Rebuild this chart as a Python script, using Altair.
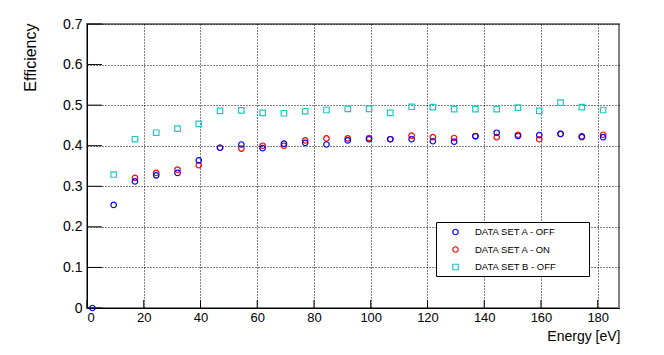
import altair as alt
import pandas as pd

# ---------------- data ----------------
energy = [1.9, 9.4, 16.9, 24.4, 31.9, 39.4, 46.9, 54.4, 61.9, 69.4, 76.9, 84.4,
          91.9, 99.4, 106.9, 114.4, 121.9, 129.4, 136.9, 144.4, 151.9, 159.4,
          166.9, 174.4, 181.9]

eff_a_off = [0.0, 0.254, 0.312, 0.327, 0.333, 0.364, 0.395, 0.403, 0.394, 0.405,
             0.407, 0.403, 0.413, 0.416, 0.416, 0.416, 0.411, 0.410, 0.424, 0.432,
             0.424, 0.426, 0.429, 0.423, 0.421]

energy_a_on = energy[2:]
eff_a_on = [0.321, 0.333, 0.341, 0.352, 0.395, 0.393, 0.400, 0.400, 0.413, 0.418,
            0.418, 0.419, 0.416, 0.425, 0.421, 0.419, 0.423, 0.421, 0.427, 0.416,
            0.429, 0.421, 0.427]

energy_b_off = energy[1:]
eff_b_off = [0.329, 0.416, 0.432, 0.442, 0.454, 0.486, 0.487, 0.481, 0.480, 0.485,
             0.488, 0.491, 0.491, 0.481, 0.496, 0.495, 0.490, 0.490, 0.490, 0.494,
             0.486, 0.506, 0.495, 0.488]

series_names = ["DATA SET A - OFF", "DATA SET A - ON", "DATA SET B - OFF"]
series_colors = ["#0000ff", "#ff0000", "#1ec8c8"]
series_shapes = ["circle", "circle", "square"]

x_ticks = [0, 20, 40, 60, 80, 100, 120, 140, 160, 180]
y_ticks = [0.0, 0.1, 0.2, 0.3, 0.4, 0.5, 0.6, 0.7]
x_domain = [0, 187.5]
y_domain = [0, 0.7]

W, H = 532, 284

xscale = alt.Scale(domain=x_domain, nice=False, zero=False)
yscale = alt.Scale(domain=y_domain, nice=False, zero=False)

x_axis = alt.Axis(values=x_ticks, format="d", grid=True, gridColor="black",
                  gridDash=[1, 2], gridWidth=1, ticks=True, tickSize=0,
                  labelPadding=3, labelFont="Liberation Sans",
                  labelFontSize=13, labelColor="black", domainColor="black",
                  domainWidth=1, title="Energy [eV]",
                  titleFont="Liberation Sans", titleFontSize=14,
                  titleFontWeight="normal", titleColor="black",
                  titleAlign="right", titleAnchor="end", titleBaseline="alphabetic",
                  titleX=W + 1, titleY=32)
y_axis = alt.Axis(values=y_ticks, format=".1~f", grid=True, gridColor="black",
                  gridDash=[1, 2], gridWidth=1, ticks=True, tickSize=0,
                  labelPadding=5, labelFont="Liberation Sans", labelFontSize=14,
                  labelColor="black", domainColor="black", domainWidth=1,
                  title="Efficiency", titleFont="Liberation Sans", titleFontSize=16,
                  titleFontWeight="normal", titleColor="black", titleAngle=270,
                  titleAlign="right", titleBaseline="alphabetic",
                  titleX=-52, titleY=-1)

frames = [
    pd.DataFrame({"energy": energy, "eff": eff_a_off}),
    pd.DataFrame({"energy": energy_a_on, "eff": eff_a_on}),
    pd.DataFrame({"energy": energy_b_off, "eff": eff_b_off}),
]

CIRCLE_SIZE = 30
SQUARE_SIZE = 30

def series_layer(i):
    shape = series_shapes[i]
    size = CIRCLE_SIZE if shape == "circle" else SQUARE_SIZE
    return alt.Chart(frames[i]).mark_point(
        shape=shape, filled=False, color=series_colors[i],
        strokeWidth=1.2, size=size, opacity=1
    ).encode(
        x=alt.X("energy:Q", scale=xscale, axis=x_axis),
        y=alt.Y("eff:Q", scale=yscale, axis=y_axis),
    )

# draw order: A-ON under A-OFF, B-OFF on top
points = [series_layer(1), series_layer(0), series_layer(2)]

# inward major ticks
ytick_df = pd.DataFrame({"eff": y_ticks})
xtick_df = pd.DataFrame({"energy": x_ticks})
ytick_layer = alt.Chart(ytick_df).mark_rule(color="black", strokeWidth=1).encode(
    y=alt.Y("eff:Q", scale=yscale, axis=y_axis),
    x=alt.value(0), x2=alt.value(15),
)
xtick_layer = alt.Chart(xtick_df).mark_rule(color="black", strokeWidth=1).encode(
    x=alt.X("energy:Q", scale=xscale, axis=x_axis),
    y=alt.value(H), y2=alt.value(H - 8),
)

# legend box
box = alt.Chart(alt.Data(values=[{"a": 1}])).mark_rect(
    fill="white", stroke="black", strokeWidth=1
).encode(x=alt.value(349.5), x2=alt.value(502.5), y=alt.value(198.5), y2=alt.value(252.5))

legend_layers = [box]
row_y = [208, 225.5, 243]
for i, name in enumerate(series_names):
    one = alt.Data(values=[{"label": name}])
    shape = series_shapes[i]
    legend_layers.append(
        alt.Chart(one).mark_point(shape=shape, filled=False, color=series_colors[i],
                                  strokeWidth=1.2,
                                  size=CIRCLE_SIZE if shape == "circle" else SQUARE_SIZE,
                                  opacity=1)
        .encode(x=alt.value(368.5), y=alt.value(row_y[i]))
    )
    legend_layers.append(
        alt.Chart(one).mark_text(align="left", baseline="middle", font="Liberation Sans",
                                 fontSize=9.5, color="black")
        .encode(x=alt.value(388), y=alt.value(row_y[i]), text="label:N")
    )

chart = alt.layer(
    ytick_layer, xtick_layer, *points, *legend_layers
).resolve_scale(x="shared", y="shared").properties(
    width=W, height=H,
    autosize=alt.AutoSizeParams(type="none"),
    padding={"left": 79, "top": 16, "right": 37, "bottom": 39},
    background="white",
).configure_view(stroke="#808080", strokeWidth=2)

chart.save("out.html", embed_options={"renderer": "svg", "actions": False})
